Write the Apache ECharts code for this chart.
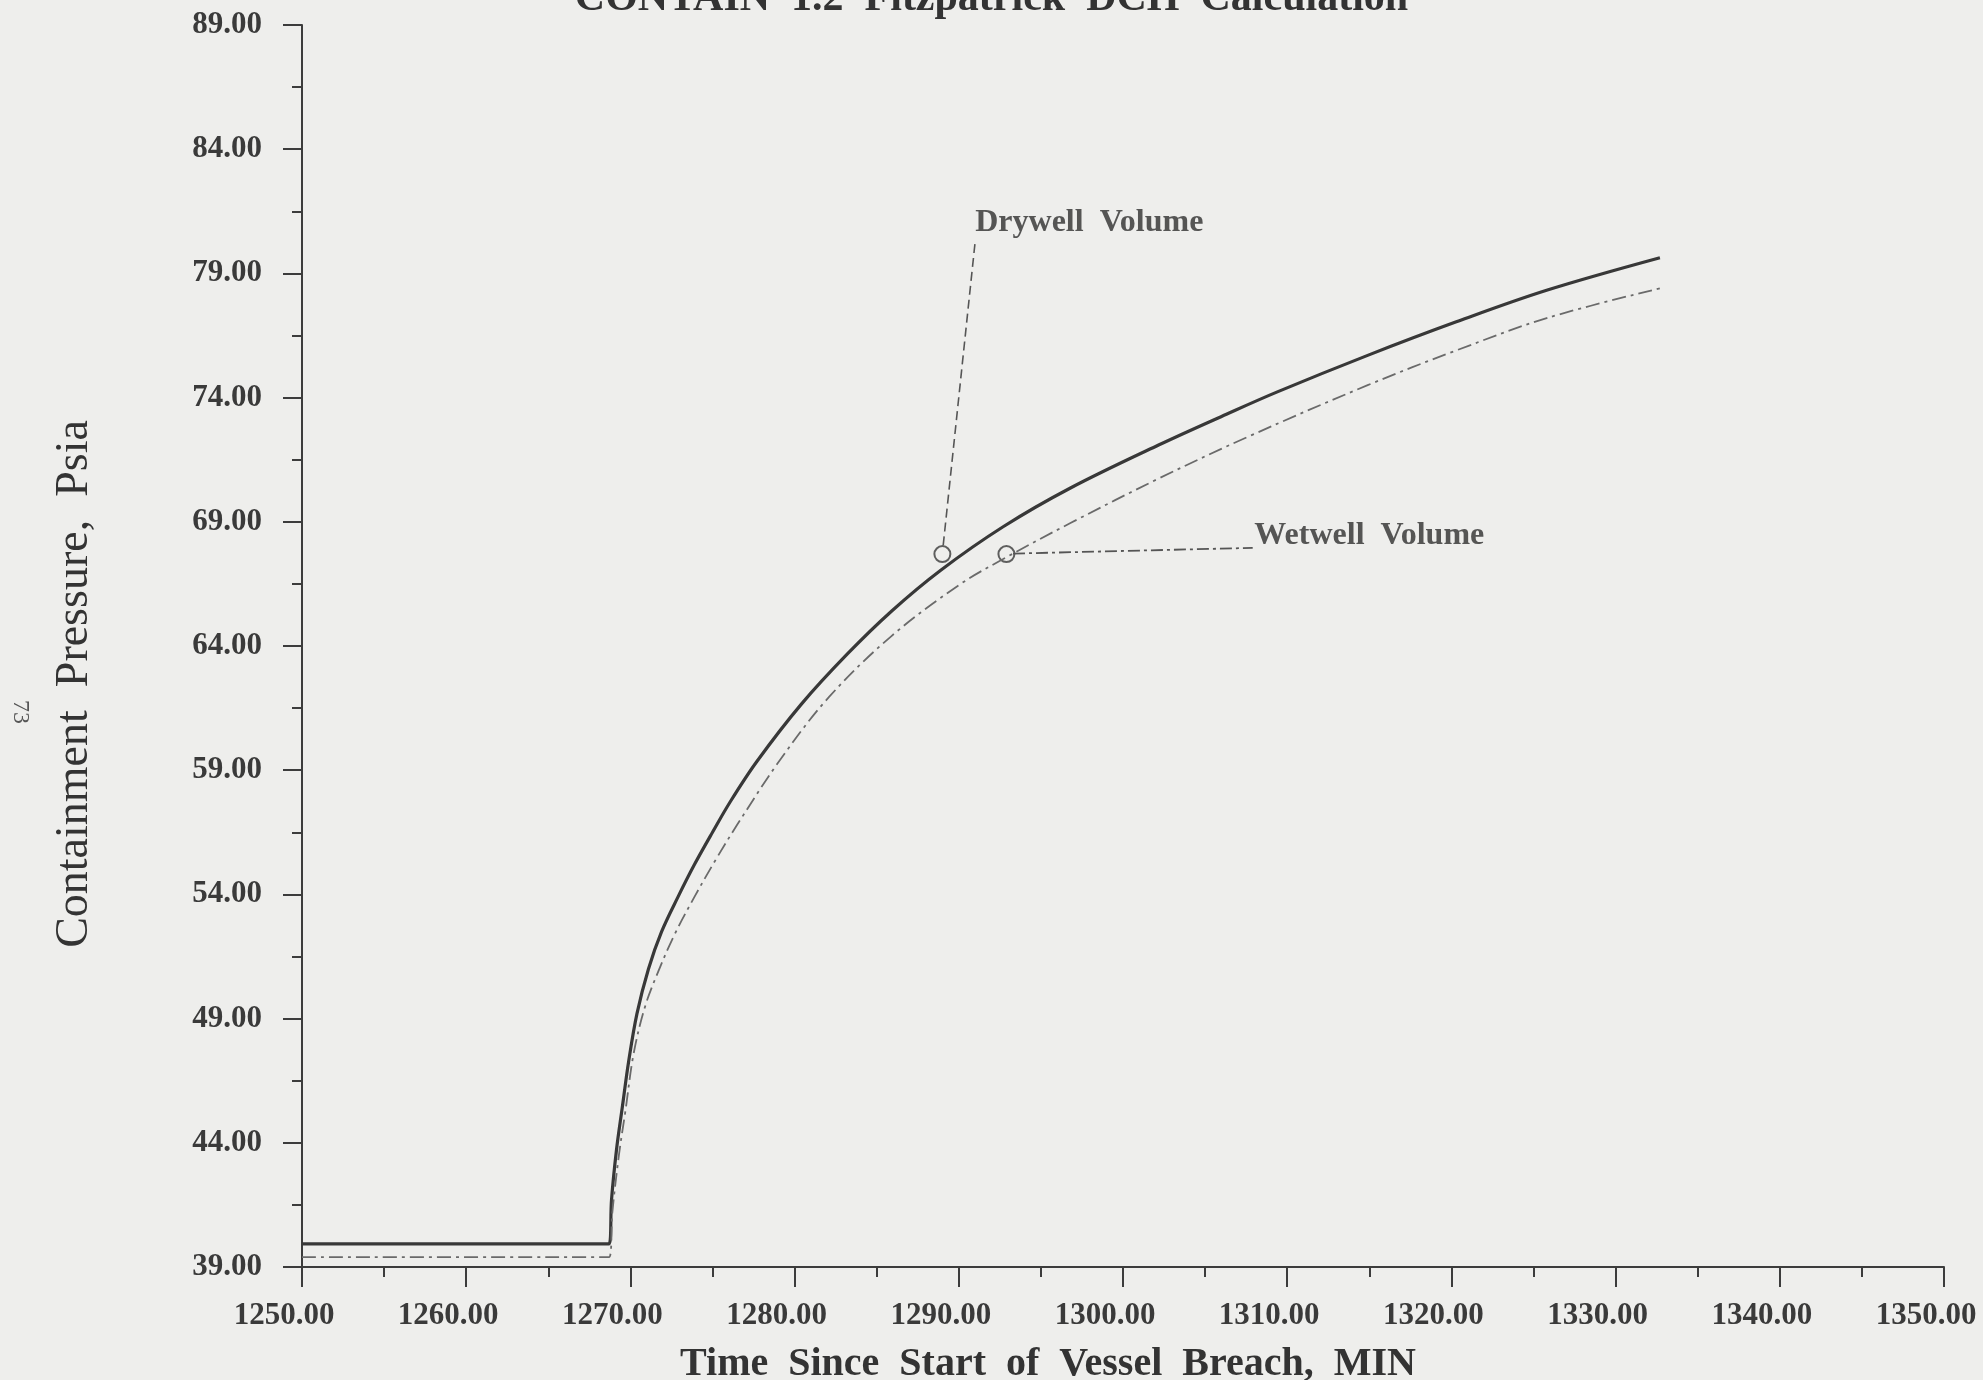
<!DOCTYPE html>
<html>
<head>
<meta charset="utf-8">
<title>CONTAIN 1.2 Fitzpatrick DCH Calculation</title>
<script src="https://cdn.jsdelivr.net/npm/echarts@6/dist/echarts.min.js"></script>
<style>
  html, body { margin: 0; padding: 0; background: #eeeeec; }
  #chart { width: 1983px; height: 1380px; }
</style>
</head>
<body>
<div id="chart"></div>
<script>
// pressure axis starts at 39 psia; ticks every 5 psia
const Y_BASE = 39;

// Drywell volume (solid line), time in min, pressure in psia
const drywellTime = [1250, 1268.7, 1268.85, 1269.15, 1269.5, 1269.9, 1270.4, 1271.1, 1271.9, 1272.9,
  1273.9, 1275.0, 1276.1, 1277.7, 1280.4, 1283.2, 1285.9, 1288.9, 1292.7, 1296.8,
  1302.2, 1306.3, 1309.4, 1314.9, 1320.3, 1325.8, 1332.7];
const drywellPsia = [39.93, 39.93, 41.7, 43.7, 45.4, 47.3, 49.2, 51.0, 52.5, 53.9,
  55.2, 56.5, 57.75, 59.35, 61.65, 63.67, 65.4, 67.05, 68.8, 70.36,
  72.1, 73.33, 74.23, 75.7, 77.05, 78.32, 79.63];

// Wetwell volume (dash-dot line)
const wetwellTime = [1250, 1268.7, 1268.9, 1269.3, 1269.7, 1270.2, 1270.9, 1271.7, 1272.7, 1273.9,
  1275.2, 1276.5, 1279.1, 1282.1, 1285.9, 1290.0, 1292.7, 1296.8, 1302.2, 1307.7,
  1314.9, 1320.3, 1325.8, 1332.7];
const wetwellPsia = [39.4, 39.4, 41.2, 43.5, 45.3, 47.6, 49.5, 50.9, 52.4, 53.9,
  55.4, 56.8, 59.4, 61.95, 64.4, 66.45, 67.5, 68.95, 70.75, 72.45,
  74.5, 75.9, 77.2, 78.4];

// annotation markers, leader lines and labels
const markerTime = [1289.0, 1292.9];
const markerPsia = [67.7, 67.7];
const drywellLeaderTime = [1289.05, 1291.0];
const drywellLeaderPsia = [68.05, 80.3];
const wetwellLeaderTime = [1293.3, 1307.9];
const wetwellLeaderPsia = [67.72, 67.95];
const labelText = ['Drywell  Volume', 'Wetwell  Volume'];
const labelTime = [1291.0, 1308.0];
const labelPsia = [81.05, 68.45];

function pairs(xs, ys) {
  return xs.map((x, i) => [x, ys[i] - Y_BASE]);
}

const chart = echarts.init(document.getElementById('chart'));
const axisColor = '#3c3c3c';
const serif = '"Liberation Serif", "Times New Roman", serif';

const option = {
  backgroundColor: '#eeeeec',
  animation: false,
  title: {
    text: 'CONTAIN  1.2  Fitzpatrick  DCH  Calculation',
    left: 'center',
    top: -27,
    textStyle: { fontFamily: serif, fontWeight: 'bold', fontSize: 42, color: '#333' }
  },
  grid: { left: 302, right: 39, top: 25, bottom: 113, outerBoundsMode: 'none' },
  xAxis: {
    type: 'value',
    min: 1250,
    max: 1350,
    interval: 10,
    name: 'Time  Since  Start  of  Vessel  Breach,  MIN',
    nameLocation: 'middle',
    nameGap: 78,
    nameTextStyle: {
      fontFamily: serif, fontWeight: 'bold', fontSize: 40, color: '#333',
      padding: [0, 150, 0, 0]
    },
    axisLine: { lineStyle: { color: axisColor, width: 2 } },
    axisTick: { inside: false, length: 20, lineStyle: { color: axisColor, width: 2 } },
    minorTick: { show: true, splitNumber: 2, length: 10, lineStyle: { color: axisColor, width: 2 } },
    splitLine: { show: false },
    axisLabel: {
      margin: 33,
      padding: [0, 36, 0, 0],
      fontFamily: serif, fontWeight: 'bold', fontSize: 31, color: '#3a3a3a',
      formatter: v => v.toFixed(2)
    }
  },
  yAxis: {
    type: 'value',
    min: 0,
    max: 50,
    interval: 5,
    name: 'Containment  Pressure,  Psia',
    nameLocation: 'middle',
    nameGap: 204,
    nameTextStyle: {
      fontFamily: serif, fontSize: 46, color: '#333',
      padding: [0, 76, 0, 0]
    },
    axisLine: { show: true, lineStyle: { color: axisColor, width: 2 } },
    axisTick: { show: true, inside: false, length: 19, lineStyle: { color: axisColor, width: 2 } },
    minorTick: { show: true, splitNumber: 2, length: 10, lineStyle: { color: axisColor, width: 2 } },
    splitLine: { show: false },
    axisLabel: {
      margin: 40,
      fontFamily: serif, fontWeight: 'bold', fontSize: 31, color: '#3a3a3a',
      formatter: v => (v + Y_BASE).toFixed(2)
    }
  },
  graphic: [
    {
      type: 'text',
      left: 8,
      top: 700,
      rotation: -Math.PI / 2,
      style: { text: '73', fontFamily: serif, fontSize: 24, fill: '#555' }
    }
  ],
  series: [
    {
      name: 'Drywell Volume',
      type: 'line',
      data: pairs(drywellTime, drywellPsia),
      showSymbol: false,
      smooth: 0.35,
      lineStyle: { color: '#383838', width: 3.2 },
      silent: true
    },
    {
      name: 'Wetwell Volume',
      type: 'line',
      data: pairs(wetwellTime, wetwellPsia),
      showSymbol: false,
      smooth: 0.35,
      lineStyle: { color: '#6a6a6a', width: 1.8, type: [14, 5, 3, 5] },
      silent: true
    },
    {
      type: 'line',
      data: pairs(drywellLeaderTime, drywellLeaderPsia),
      showSymbol: false,
      lineStyle: { color: '#555', width: 1.6, type: [9, 5] },
      silent: true
    },
    {
      type: 'line',
      data: pairs(wetwellLeaderTime, wetwellLeaderPsia),
      showSymbol: false,
      lineStyle: { color: '#555', width: 1.8, type: [12, 4, 3, 4] },
      silent: true
    },
    {
      type: 'scatter',
      data: pairs(markerTime, markerPsia),
      symbol: 'circle',
      symbolSize: 16,
      itemStyle: { color: 'rgba(0,0,0,0)', borderColor: '#3a3a3a', borderWidth: 2 },
      silent: true
    },
    {
      type: 'scatter',
      data: labelTime.map((t, i) => ({ value: [t, labelPsia[i] - Y_BASE], name: labelText[i] })),
      symbolSize: 0,
      label: {
        show: true,
        position: 'right',
        distance: 0,
        formatter: p => p.name,
        fontFamily: serif, fontWeight: 'bold', fontSize: 32, color: '#2e2e2e'
      },
      silent: true
    }
  ]
};

chart.setOption(option);
</script>
</body>
</html>
